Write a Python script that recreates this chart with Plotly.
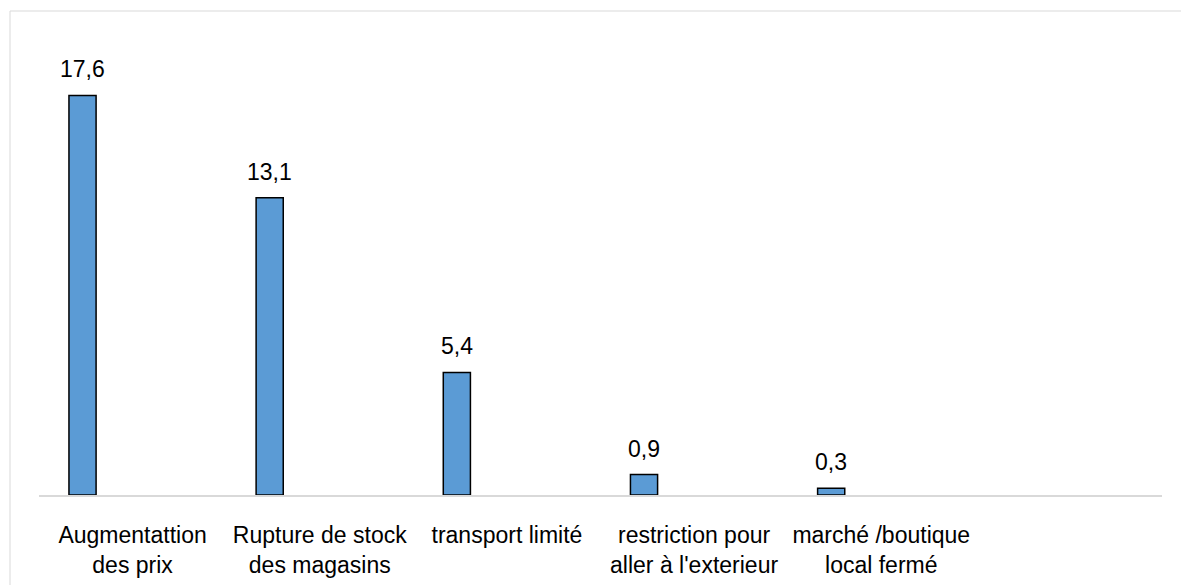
import plotly.graph_objects as go

categories = [
    "Augmentattion<br>des prix",
    "Rupture de stock<br>des magasins",
    "transport limité",
    "restriction pour<br>aller à l'exterieur",
    "marché /boutique<br>local fermé",
]
values = [17.6, 13.1, 5.4, 0.9, 0.3]
value_labels = ["17,6", "13,1", "5,4", "0,9", "0,3"]

FONT = "Liberation Sans, Arial, sans-serif"

fig = go.Figure()
fig.add_trace(go.Bar(
    x=categories,
    y=values,
    width=0.145,
    offset=-0.34,
    marker=dict(color="#5b9bd5", line=dict(color="#000000", width=1.5)),
    hoverinfo="skip",
))

for c, v, t in zip(categories, values, value_labels):
    fig.add_annotation(
        x=c, y=v, text=t, showarrow=False,
        xanchor="center", yanchor="bottom",
        xshift=-50, yshift=11,
        font=dict(family=FONT, size=23, color="#000000"),
    )

# outer chart border (light gray), extends beyond the visible canvas on right/bottom
fig.add_shape(
    type="rect", xref="paper", yref="paper",
    x0=(10 - 39) / 1123, x1=(1300 - 39) / 1123,
    y0=(495 - 700) / 454, y1=(495 - 11) / 454,
    line=dict(color="#d9d9d9", width=1), fillcolor="rgba(0,0,0,0)",
    layer="below",
)

fig.update_layout(
    width=1181, height=585,
    margin=dict(l=39, r=19, t=41, b=90, autoexpand=False),
    paper_bgcolor="white", plot_bgcolor="white",
    showlegend=False,
    bargap=0,
    font=dict(family=FONT, size=23, color="#000000"),
    xaxis=dict(
        type="category",
        categoryorder="array",
        categoryarray=categories,
        range=[-0.5, 5.5],
        showline=True, linecolor="#d9d9d9", linewidth=2,
        showgrid=False, zeroline=False,
        ticks="", ticklen=0,
        tickangle=0,
        ticklabelstandoff=18,
        automargin=False,
        tickfont=dict(family=FONT, size=23, color="#000000"),
        fixedrange=True,
    ),
    yaxis=dict(
        range=[0, 20],
        visible=False,
        showgrid=False, zeroline=False,
        fixedrange=True,
    ),
)

fig.write_html(
    "out.html",
    config={"displayModeBar": False, "staticPlot": True},
    post_script="document.body.style.margin='0';document.body.style.overflow='hidden';",
)
